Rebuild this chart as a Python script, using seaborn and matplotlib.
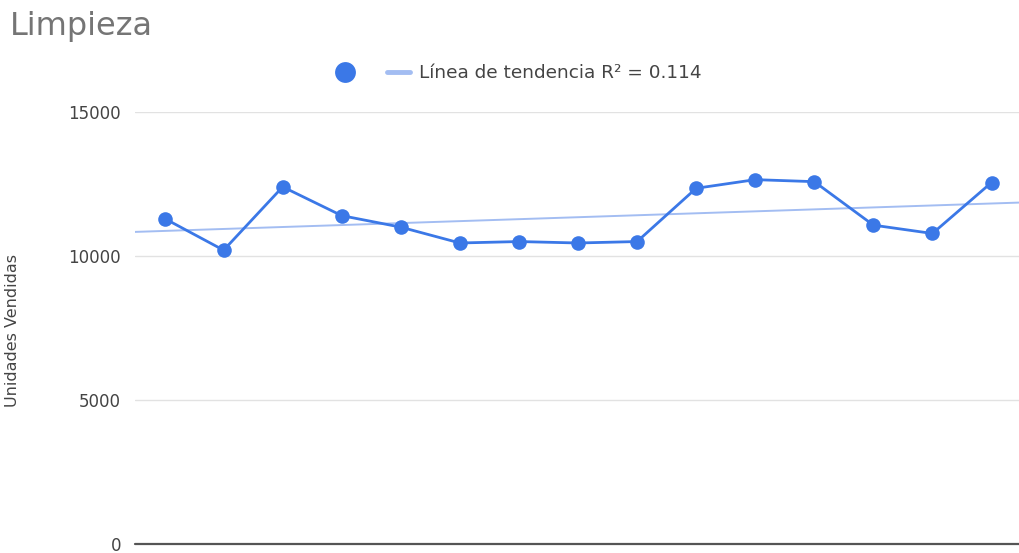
import numpy as np
import pandas as pd
import matplotlib
matplotlib.use("Agg")
import matplotlib.pyplot as plt
from matplotlib.lines import Line2D
import seaborn as sns

# Monthly units sold for the cleaning category
periods = list(range(1, 16))
units = [11300, 10200, 12400, 11400, 11000, 10450, 10500, 10450,
         10500, 12350, 12650, 12580, 11070, 10780, 12550]
y_ticks = [0, 5000, 10000, 15000]

title = "Limpieza"
y_label = "Unidades Vendidas"
trend_label = "Línea de tendencia R² = 0.114"

series_color = "#3b78e7"
trend_color = "#a3bdf2"

sns.set_theme(style="white")
plt.rcParams["font.family"] = ["DejaVu Sans"]

df = pd.DataFrame({"periodo": periods, "unidades": units})

fig = plt.figure(figsize=(10.19, 5.53), dpi=100)
ax = fig.add_axes([0.1325, 0.0165, 0.8695, 0.781])
ax.set_xlim(0.5, 15.5)
ax.set_ylim(y_ticks[0], y_ticks[-1])

# Linear trend across the full width of the plot
sns.regplot(data=df, x="periodo", y="unidades", ax=ax, scatter=False,
            ci=None, truncate=False, color=trend_color,
            line_kws={"linewidth": 1.4, "zorder": 2})

# Main series
sns.lineplot(data=df, x="periodo", y="unidades", ax=ax, color=series_color,
             linewidth=2.0, marker="o", markersize=10.5, markeredgewidth=0,
             zorder=3)

ax.set_xlim(0.5, 15.5)
ax.set_ylim(y_ticks[0], y_ticks[-1])
ax.set_yticks(y_ticks)
ax.set_xticks([])
ax.set_xlabel("")
ax.yaxis.grid(True, color="#e2e2e2", linewidth=1.0)
ax.set_axisbelow(True)
for side in ["top", "right", "left", "bottom"]:
    ax.spines[side].set_visible(False)
ax.axhline(0, color="#555555", linewidth=1.6, clip_on=False, zorder=1)
ax.tick_params(axis="y", length=0, pad=10, labelsize=12, labelcolor="#444444")

ax.set_ylabel(y_label, fontsize=11.5, color="#444444")
ax.yaxis.set_label_coords(-0.13, 0.495)

fig.text(10 / 1019, 1 - 27 / 553, title, fontsize=23, color="#757575",
         va="center", ha="left")

handles = [
    Line2D([], [], marker="o", linestyle="none", color=series_color,
           markersize=15, markeredgewidth=0),
    Line2D([], [], color=trend_color, linewidth=3.5),
]
fig.legend(handles, ["", trend_label], loc="center",
           bbox_to_anchor=(0.508, 0.868), ncol=2, frameon=False,
           fontsize=13.3, handlelength=1.2, handletextpad=0.5,
           columnspacing=1.2, labelcolor="#444444")

fig.savefig("out.png", dpi=100)
